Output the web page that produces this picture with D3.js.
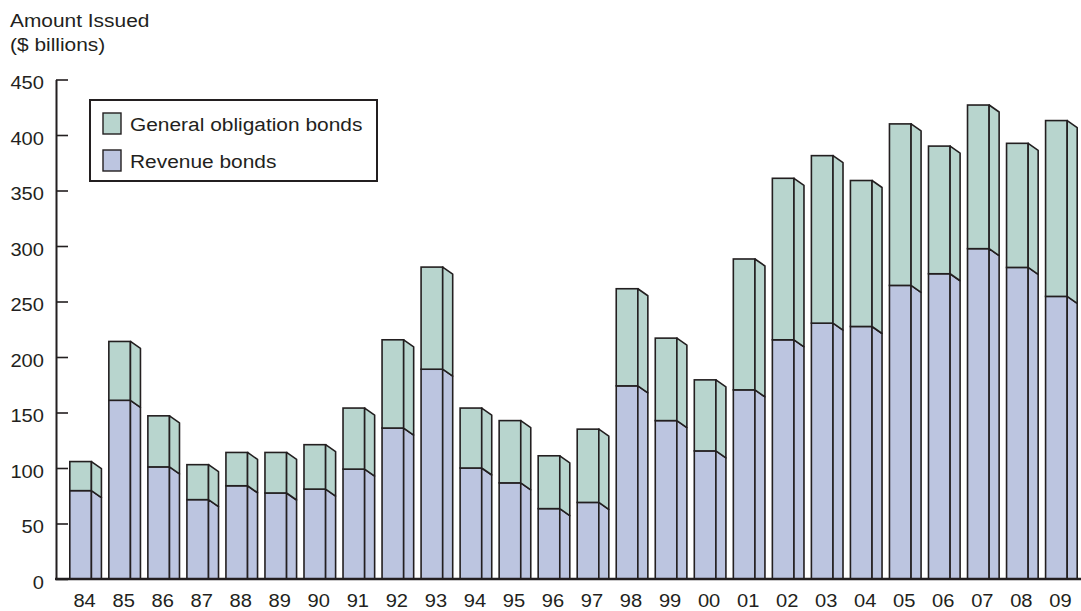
<!DOCTYPE html>
<html>
<head>
<meta charset="utf-8">
<script src="https://cdn.jsdelivr.net/npm/d3@7/dist/d3.min.js"></script>
<style>
  html, body { margin: 0; padding: 0; background: #fff; }
  svg { display: block; font-family: "Liberation Sans", Arial, Helvetica, sans-serif; }
</style>
</head>
<body>
<svg id="chart" width="1081" height="611"></svg>
<script>
// Municipal bond issuance by type, 1984-2009 ($ billions)
const years = ["84","85","86","87","88","89","90","91","92","93","94","95","96",
               "97","98","99","00","01","02","03","04","05","06","07","08","09"];
const revenueBonds = [79.6, 161, 101, 71.5, 84, 77.5, 81, 99, 136, 189, 100, 86.6, 63.4,
                      69, 174, 142.7, 115.4, 170.4, 215.5, 230.5, 227.5, 264.5, 275, 297.6, 280.7, 254.6];
const generalObligation = [26.2, 53, 46, 31.5, 30, 36.5, 40, 55, 79.5, 92, 54, 56.1, 47.6,
                           66, 87.5, 74.3, 64, 117.9, 145.5, 150.9, 131.5, 145.5, 115, 129.4, 111.8, 158.4];
const yTicks = [0, 50, 100, 150, 200, 250, 300, 350, 400, 450];
const seriesNames = ["General obligation bonds", "Revenue bonds"];

const colors = { go: "#b8d5ce", rev: "#bcc5e0", ink: "#231f20" };
const depthX = 10, depthY = 7;

const svg = d3.select("#chart");

const x = d3.scaleBand().domain(years).range([62, 1085]).paddingInner(0.19).paddingOuter(0.2);
const y = d3.scaleLinear().domain([0, 450]).range([579, 79.5]);

const rows = years.map((yr, i) => ({
  year: yr,
  rev: revenueBonds[i],
  go: generalObligation[i]
}));

// Horizontally widened text, like the typeset original
function stretched(sel, sx) {
  sel.attr("transform", function () {
    const t = d3.select(this).attr("data-t");
    return t + ` scale(${sx},1)`;
  });
}

// Bars: front face plus a shaded side face for each segment
const bw = x.bandwidth() - depthX;
const bars = svg.append("g").attr("class", "bars")
  .selectAll("g").data(rows).join("g");

function sidePoly(x0, yTop, yBot, bottomFlat) {
  const x1 = x0 + depthX;
  const pts = [[x0, yTop], [x1, yTop + depthY]];
  if (bottomFlat) { pts.push([x1, yBot], [x0, yBot]); }
  else { pts.push([x1, yBot + depthY], [x0, yBot]); }
  return pts.map(p => p.join(",")).join(" ");
}

bars.each(function (d) {
  const g = d3.select(this);
  const x0 = x(d.year);
  const yBase = y(0), yRev = y(d.rev), yTop = y(d.rev + d.go);
  // revenue segment
  g.append("rect").attr("x", x0).attr("y", yRev).attr("width", bw).attr("height", yBase - yRev)
    .attr("fill", colors.rev).attr("stroke", colors.ink).attr("stroke-width", 1.6);
  g.append("polygon").attr("points", sidePoly(x0 + bw, yRev, yBase, true))
    .attr("fill", colors.rev).attr("stroke", colors.ink).attr("stroke-width", 1.6)
    .attr("stroke-linejoin", "round");
  // general obligation segment
  g.append("rect").attr("x", x0).attr("y", yTop).attr("width", bw).attr("height", yRev - yTop)
    .attr("fill", colors.go).attr("stroke", colors.ink).attr("stroke-width", 1.6);
  g.append("polygon").attr("points", sidePoly(x0 + bw, yTop, yRev, false))
    .attr("fill", colors.go).attr("stroke", colors.ink).attr("stroke-width", 1.6)
    .attr("stroke-linejoin", "round");
});

// Y axis with inward ticks
const yAxis = svg.append("g").attr("transform", "translate(56,0)")
  .call(d3.axisLeft(y).tickValues(yTicks).tickSizeInner(-12).tickSizeOuter(0).tickPadding(0));
yAxis.select(".domain").attr("stroke", colors.ink).attr("stroke-width", 2);
yAxis.selectAll(".tick line").attr("stroke", colors.ink).attr("stroke-width", 1.6);
yAxis.selectAll(".tick text")
  .attr("x", null).attr("dy", null)
  .attr("font-size", 19).attr("fill", colors.ink).attr("text-anchor", "end")
  .attr("data-t", "translate(-12,9)")
  .call(stretched, 1.06);

// X axis baseline and year labels
svg.append("line").attr("x1", 55).attr("x2", 1081).attr("y1", y(0)).attr("y2", y(0))
  .attr("stroke", colors.ink).attr("stroke-width", 2.5);
const xAxis = svg.append("g").attr("transform", `translate(-1,${y(0)})`)
  .call(d3.axisBottom(x).tickSize(0).tickPadding(0));
xAxis.select(".domain").remove();
xAxis.selectAll(".tick text")
  .attr("y", null).attr("dy", null)
  .attr("font-size", 19).attr("fill", colors.ink).attr("text-anchor", "middle")
  .attr("data-t", "translate(0,28)")
  .call(stretched, 1.06);

// Axis title
const title = svg.append("g").attr("fill", colors.ink).attr("font-size", 19);
title.append("text").attr("data-t", "translate(10,27)").text("Amount Issued").call(stretched, 1.1);
title.append("text").attr("data-t", "translate(10,51)").text("($ billions)").call(stretched, 1.1);

// Legend
const legend = svg.append("g");
legend.append("rect").attr("x", 90).attr("y", 100).attr("width", 287).attr("height", 81)
  .attr("fill", "#fff").attr("stroke", colors.ink).attr("stroke-width", 2);
const legendItems = [
  { name: seriesNames[0], color: colors.go, y: 113 },
  { name: seriesNames[1], color: colors.rev, y: 150 }
];
legendItems.forEach(it => {
  legend.append("rect").attr("x", 103).attr("y", it.y).attr("width", 18).attr("height", 21)
    .attr("fill", it.color).attr("stroke", colors.ink).attr("stroke-width", 1.4);
  legend.append("text").attr("font-size", 19).attr("fill", colors.ink)
    .attr("data-t", `translate(130,${it.y + 18})`).text(it.name).call(stretched, 1.1);
});
</script>
</body>
</html>
